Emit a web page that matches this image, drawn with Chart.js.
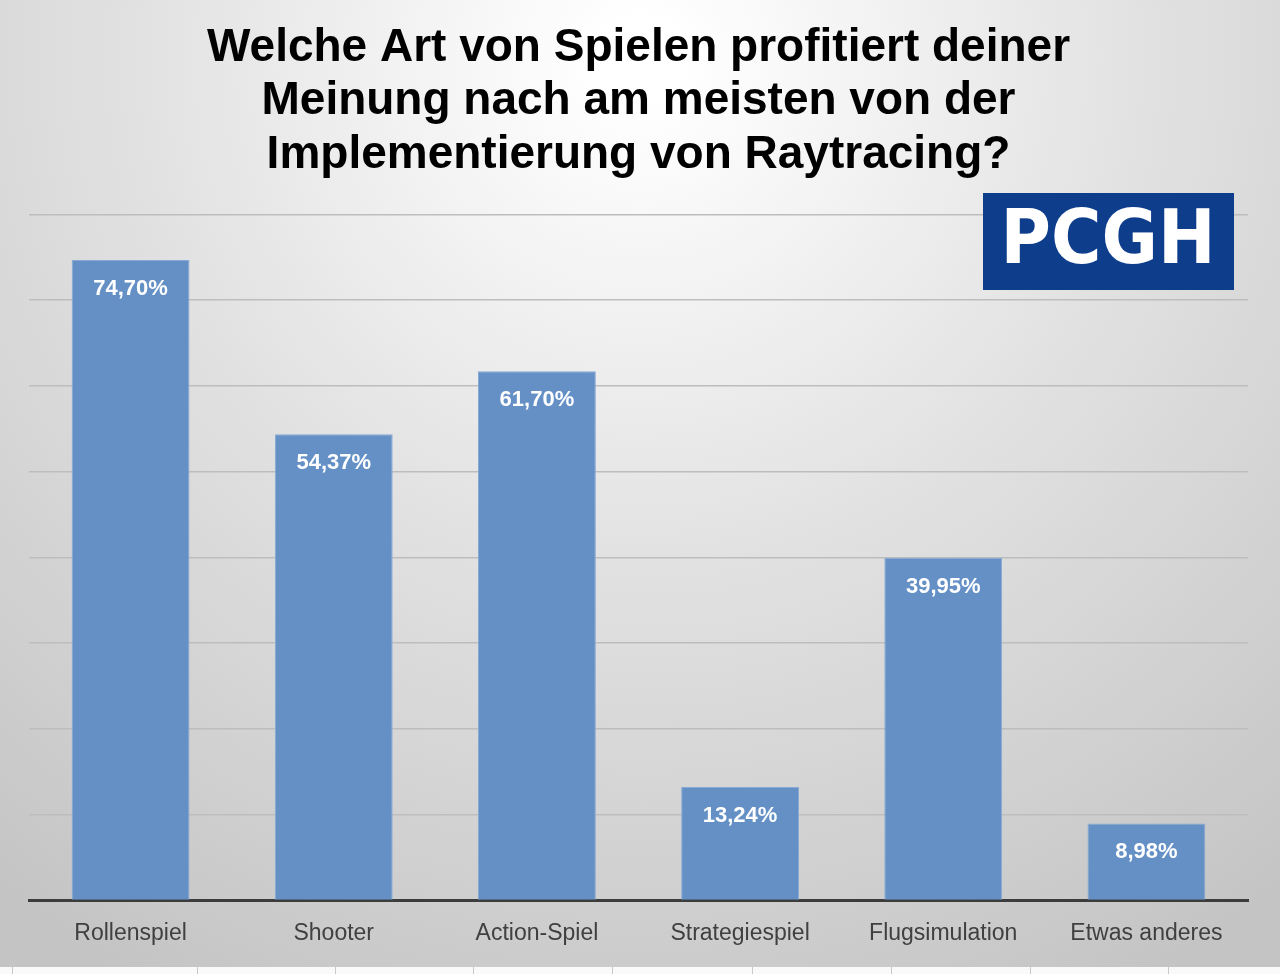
<!DOCTYPE html>
<html>
<head>
<meta charset="utf-8">
<script src="https://cdn.jsdelivr.net/npm/chart.js@4"></script>
<style>
  html, body { margin: 0; padding: 0; }
  #wrap { width: 1280px; height: 974px; position: relative; }
</style>
</head>
<body>
<div id="wrap"><canvas id="raytracingChart"></canvas></div>
<script>
// Umfrage-Daten
const categories = ['Rollenspiel', 'Shooter', 'Action-Spiel', 'Strategiespiel', 'Flugsimulation', 'Etwas anderes'];
const shares = [74.70, 54.37, 61.70, 13.24, 39.95, 8.98];
const titleLines = [
    'Welche Art von Spielen profitiert deiner',
    'Meinung nach am meisten von der',
    'Implementierung von Raytracing?'
];

// Hintergrund mit Verlauf
const backgroundPlugin = {
    id: 'background',
    beforeDraw(chart) {
        const ctx = chart.ctx;
        const w = chart.width, h = chart.height;
        ctx.save();
        const g = ctx.createRadialGradient(640, 60, 40, 640, 60, 1050);
        g.addColorStop(0, '#ffffff');
        g.addColorStop(0.45, '#e2e2e2');
        g.addColorStop(1, '#c4c4c4');
        ctx.fillStyle = g;
        ctx.fillRect(0, 0, w, h);
        // weisser Streifen unten
        ctx.fillStyle = '#fafafa';
        ctx.fillRect(0, 967, w, h - 967);
        ctx.strokeStyle = '#c8c8c8';
        ctx.lineWidth = 1;
        [12, 197, 335, 473, 612, 752, 891, 1030, 1168].forEach(x => {
            ctx.beginPath();
            ctx.moveTo(x + 0.5, 967);
            ctx.lineTo(x + 0.5, h);
            ctx.stroke();
        });
        ctx.restore();
    }
};

// Werte in den Balken
const valueLabels = {
    id: 'valueLabels',
    afterDatasetsDraw(chart) {
        const ctx = chart.ctx;
        const meta = chart.getDatasetMeta(0);
        ctx.save();
        ctx.fillStyle = '#ffffff';
        ctx.font = 'bold 22px "Liberation Sans", Arial, sans-serif';
        ctx.textAlign = 'center';
        ctx.textBaseline = 'middle';
        meta.data.forEach((bar, i) => {
            const txt = shares[i].toFixed(2).replace('.', ',') + '%';
            ctx.fillText(txt, bar.x, bar.y + 29);
        });
        ctx.restore();
    }
};

// PCGH-Logo
const logoPlugin = {
    id: 'logo',
    afterDraw(chart) {
        const ctx = chart.ctx;
        ctx.save();
        ctx.fillStyle = '#0e3d8c';
        ctx.fillRect(983, 193, 251, 97);
        ctx.fillStyle = '#ffffff';
        ctx.font = 'bold 74px "DejaVu Sans", sans-serif';
        ctx.textBaseline = 'middle';
        ctx.textAlign = 'center';
        const m = ctx.measureText('PCGH');
        ctx.translate(1108, 244);
        ctx.scale(215 / m.width, 1);
        ctx.fillText('PCGH', 0, 0);
        ctx.restore();
    }
};

new Chart(document.getElementById('raytracingChart').getContext('2d'), {
    type: 'bar',
    data: {
        labels: categories,
        datasets: [{
            data: shares,
            backgroundColor: '#6490c6',
            borderColor: '#86a9d6',
            borderWidth: 1,
            barPercentage: 0.58,
            categoryPercentage: 1
        }]
    },
    options: {
        responsive: true,
        maintainAspectRatio: false,
        animation: false,
        layout: {
            padding: { left: 29, right: 32, top: 0, bottom: 8 }
        },
        plugins: {
            legend: { display: false },
            tooltip: { enabled: false },
            title: {
                display: true,
                text: titleLines,
                color: '#000000',
                font: { family: '"Liberation Sans", Arial, sans-serif', size: 46, weight: 'bold', lineHeight: 1.17 },
                padding: { top: 21, bottom: 32 }
            }
        },
        scales: {
            y: {
                min: 0,
                max: 80,
                ticks: { display: false, stepSize: 10 },
                border: { display: false },
                grid: {
                    color: '#bdbdbd',
                    lineWidth: 1.5,
                    drawTicks: false
                }
            },
            x: {
                border: { display: true, color: '#3c3c3c', width: 3 },
                grid: { display: false, drawTicks: false },
                ticks: {
                    color: '#404040',
                    padding: 19,
                    font: { family: '"Liberation Sans", Arial, sans-serif', size: 23 }
                }
            }
        }
    },
    plugins: [backgroundPlugin, valueLabels, logoPlugin]
});
</script>
</body>
</html>
